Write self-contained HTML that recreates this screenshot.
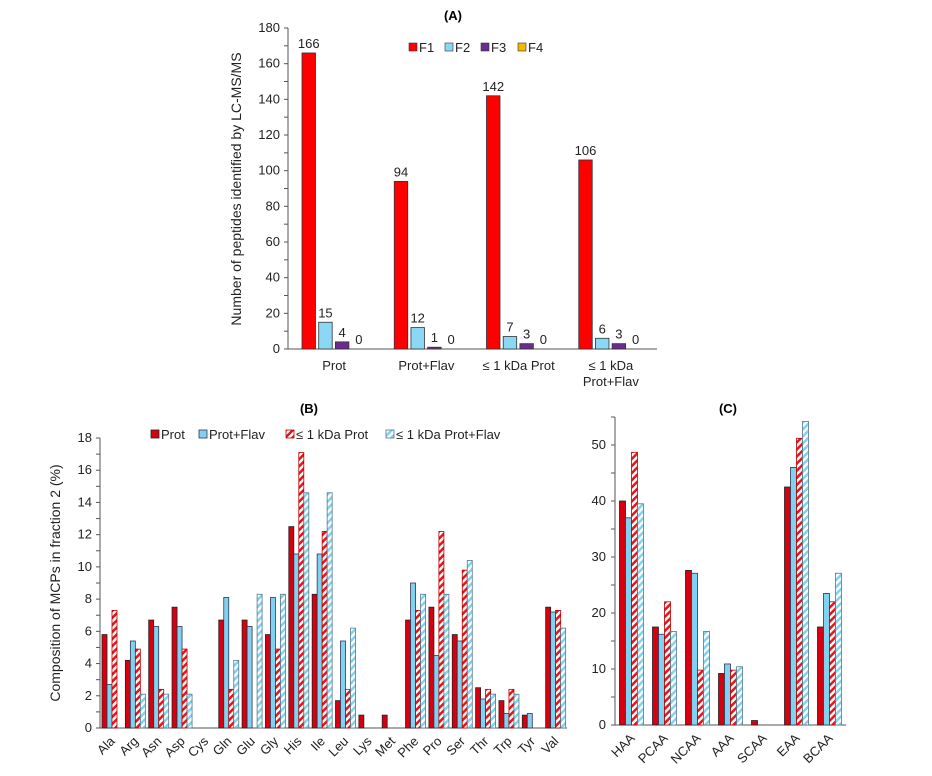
<!DOCTYPE html>
<html><head><meta charset="utf-8"><style>
html,body{margin:0;padding:0;background:#fff;}
svg{display:block;font-family:"Liberation Sans",sans-serif;}
</style></head><body>
<svg id="chart" width="932" height="776" viewBox="0 0 932 776">
<defs>
<pattern id="hatchRed" patternUnits="userSpaceOnUse" width="5" height="5" patternTransform="rotate(45)">
<rect width="5" height="5" fill="#fff"/><rect width="2.5" height="5" fill="#e8141a"/></pattern>
<pattern id="hatchBlue" patternUnits="userSpaceOnUse" width="5" height="5" patternTransform="rotate(45)">
<rect width="5" height="5" fill="#fff"/><rect width="2.5" height="5" fill="#7fd3f0"/></pattern>
</defs>
<g id="gA"></g>
<g id="gB"></g>
<g id="gC"></g>
</svg>
<script>
// Panel A data
const catsA = ["Prot", "Prot+Flav", "≤  1 kDa Prot", "≤  1 kDa|Prot+Flav"];
const seriesA = ["F1", "F2", "F3", "F4"];
const f1A = [166, 94, 142, 106];
const f2A = [15, 12, 7, 6];
const f3A = [4, 1, 3, 3];
const f4A = [0, 0, 0, 0];
const ticksA = [0, 20, 40, 60, 80, 100, 120, 140, 160, 180];
// Panel B data
const catsB = ["Ala","Arg","Asn","Asp","Cys","Gln","Glu","Gly","His","Ile","Leu","Lys","Met","Phe","Pro","Ser","Thr","Trp","Tyr","Val"];
const seriesB = ["Prot", "Prot+Flav", "≤ 1 kDa Prot", "≤ 1 kDa Prot+Flav"];
const protB = [5.8,4.2,6.7,7.5,0,6.7,6.7,5.8,12.5,8.3,1.7,0.8,0.8,6.7,7.5,5.8,2.5,1.7,0.8,7.5];
const pfB = [2.7,5.4,6.3,6.3,0,8.1,6.3,8.1,10.8,10.8,5.4,0,0,9.0,4.5,5.4,1.8,0.9,0.9,7.2];
const kProtB = [7.3,4.9,2.4,4.9,0,2.4,0,4.9,17.1,12.2,2.4,0,0,7.3,12.2,9.8,2.4,2.4,0,7.3];
const kPfB = [0,2.1,2.1,2.1,0,4.2,8.3,8.3,14.6,14.6,6.2,0,0,8.3,8.3,10.4,2.1,2.1,0,6.2];
const ticksB = [0,2,4,6,8,10,12,14,16,18];
// Panel C data
const catsC = ["HAA","PCAA","NCAA","AAA","SCAA","EAA","BCAA"];
const protC = [40,17.5,27.6,9.2,0.8,42.5,17.5];
const pfC = [37,16.2,27.1,10.9,0,46,23.5];
const kProtC = [48.7,22,9.8,9.8,0,51.2,22];
const kPfC = [39.5,16.7,16.7,10.4,0,54.2,27.1];
const ticksC = [0,10,20,30,40,50];

const NS="http://www.w3.org/2000/svg";
function mk(parent, tag, attrs, text){
  const e=document.createElementNS(NS,tag);
  for(const k in attrs) e.setAttribute(k,attrs[k]);
  if(text!==undefined) e.textContent=text;
  parent.appendChild(e); return e;
}
const fillsA=["#ff0000","#8ad8f5","#6a2c91","#f5b800"];
const fillsB=["#d7000f","#7fd3f0","url(#hatchRed)","url(#hatchBlue)"];
const strokesB=["#222","#335","#b00","#578"];

// ===== Panel A =====
(function(){
  const g=document.getElementById('gA');
  const x0=288,x1=657,y0=349,yTop=28,max=180;
  const y=v=>y0-(v/max)*(y0-yTop);
  const gw=(x1-x0)/catsA.length;
  const data=[f1A,f2A,f3A,f4A];
  let t=mk(g,'text',{x:453,y:20,'text-anchor':'middle','font-size':13,'font-weight':'bold'},'(A)');
  
  
  let ax=mk(g,'line',{x1:x0,y1:y0,x2:x0,y2:yTop,stroke:'#555','stroke-width':1});
  
  
  ax=mk(g,'line',{x1:x0,y1:y0,x2:x1,y2:y0,stroke:'#555','stroke-width':1});
  
  
  for(let v=0;v<=max;v+=10){
    mk(g,'line',{x1:x0-4,y1:y(v),x2:x0,y2:y(v),stroke:'#555'});
  }
  ticksA.forEach(v=>{
    const tl=mk(g,'text',{x:x0-8,y:y(v)+4,'text-anchor':'end','font-size':13,fill:'#222'},v);
    
    
  });
  const yt=mk(g,'text',{transform:'translate(241,189) rotate(-90)','text-anchor':'middle','font-size':14,fill:'#222'},'Number of peptides identified by LC-MS/MS');
  
  
  catsA.forEach((c,i)=>{
    const gx=x0+i*gw;
    data.forEach((arr,s)=>{
      const bx=gx+14+s*16.7, v=arr[i];
      if(v>0){
        const r=mk(g,'rect',{x:bx,y:y(v),width:13.5,height:y0-y(v),fill:fillsA[s],stroke:'#333','stroke-width':0.8});
        
        
      }
      const vl=mk(g,'text',{x:bx+6.75,y:y(v)-5,'text-anchor':'middle','font-size':13,fill:'#222'},v);
      
      
    });
    const parts=c.split('|');
    parts.forEach((p,k)=>{
      const cl=mk(g,'text',{x:gx+gw/2,y:370+k*16,'text-anchor':'middle','font-size':13,fill:'#222'},p);
      
      
    });
  });
  const lx=[409,445,481,518];
  seriesA.forEach((s,i)=>{
    const lr=mk(g,'rect',{x:lx[i],y:43,width:8,height:8,fill:fillsA[i],stroke:'#333','stroke-width':0.6});
    
    
    const lt=mk(g,'text',{x:lx[i]+10,y:52,'font-size':13,fill:'#222'},s);
    
    
  });
})();

function groupedPanel(g, opts){
  const {x0,x1,y0,yTop,max,cats,data,ticks,barW,offset,minorStep,tickFont,labelX}=opts;
  const y=v=>y0-(v/max)*(y0-yTop);
  const gw=(x1-x0)/cats.length;
  let ax=mk(g,'line',{x1:x0,y1:y0,x2:x0,y2:yTop,stroke:'#555'});
  
  
  ax=mk(g,'line',{x1:x0,y1:y0,x2:x1,y2:y0,stroke:'#555'});
  
  
  for(let v=0;v<=max+1e-9;v+=minorStep){
    mk(g,'line',{x1:x0-4,y1:y(v),x2:x0,y2:y(v),stroke:'#555'});
  }
  ticks.forEach(v=>{
    const tl=mk(g,'text',{x:labelX,y:y(v)+4,'text-anchor':'end','font-size':tickFont,fill:'#222'},v);
    
    
  });
  cats.forEach((c,i)=>{
    const gx=x0+i*gw;
    data.forEach((arr,s)=>{
      const v=arr[i]; if(v<=0) return;
      const bx=gx+offset+s*barW;
      const r=mk(g,'rect',{x:bx,y:y(v),width:barW,height:y0-y(v),fill:fillsB[s],stroke:strokesB[s],'stroke-width':0.8});
      
      
    });
    const cx=gx+gw/2+4, cy=y0+14;
    const cl=mk(g,'text',{transform:`translate(${cx},${cy}) rotate(-45)`,'text-anchor':'end','font-size':13,fill:'#222'},c);
    
    
  });
}

// ===== Panel B =====
(function(){
  const g=document.getElementById('gB');
  const t=mk(g,'text',{x:309,y:413,'text-anchor':'middle','font-size':13,'font-weight':'bold'},'(B)');
  
  
  groupedPanel(g,{x0:100,x1:567,y0:728,yTop:438,max:18,cats:catsB,data:[protB,pfB,kProtB,kPfB],ticks:ticksB,barW:5,offset:2,minorStep:1,tickFont:13,labelX:92});
  const yt=mk(g,'text',{transform:'translate(60,583) rotate(-90)','text-anchor':'middle','font-size':14,fill:'#222'},'Composition of MCPs in fraction 2 (%)');
  
  
  const lx=[151,199,286,386];
  seriesB.forEach((s,i)=>{
    const lr=mk(g,'rect',{x:lx[i],y:430,width:8,height:8,fill:fillsB[i],stroke:strokesB[i],'stroke-width':0.8});
    
    
    const lt=mk(g,'text',{x:lx[i]+10,y:439,'font-size':13,fill:'#222'},s);
    
    
  });
})();

// ===== Panel C =====
(function(){
  const g=document.getElementById('gC');
  const t=mk(g,'text',{x:728,y:413,'text-anchor':'middle','font-size':13,'font-weight':'bold'},'(C)');
  
  
  groupedPanel(g,{x0:615,x1:846,y0:725,yTop:417,max:55,cats:catsC,data:[protC,pfC,kProtC,kPfC],ticks:ticksC,barW:6,offset:4.5,minorStep:5,tickFont:13,labelX:606});
})();
</script>
</body></html>
